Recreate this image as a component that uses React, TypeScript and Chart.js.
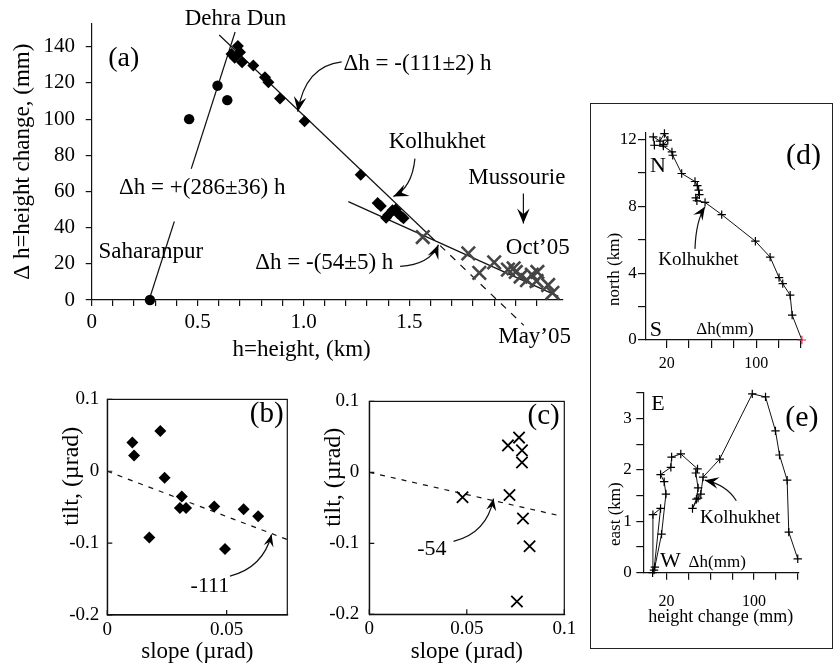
import React, { useEffect, useRef } from 'react';
import { Chart, registerables } from 'chart.js';

Chart.register(...registerables);

const SERIF = "'Liberation Serif', 'Times New Roman', Times, serif";
const INK = '#111';

// ---------- Panel (a): height change vs height ----------
const circleHeight = [0.275, 0.46, 0.594, 0.64];
const circleChange = [0, 100, 118.5, 110.5];
const diamondHeight = [0.66, 0.675, 0.69, 0.7, 0.71, 0.763, 0.818, 0.834, 0.889, 1.005, 1.27, 1.35, 1.365, 1.39, 1.4, 1.42, 1.435, 1.445, 1.462, 1.472];
const diamondChange = [136, 134, 140.5, 137, 131.5, 129.7, 123.2, 120.4, 111.4, 98.8, 69.2, 53.6, 52, 45.5, 47, 49.6, 50, 48, 46.2, 45.2];
const crossHeight = [1.563, 1.778, 1.83, 1.9, 1.965, 1.992, 2.002, 2.025, 2.055, 2.078, 2.104, 2.1, 2.155, 2.175];
const crossChange = [34.8, 25.8, 15, 20.8, 16.8, 17.5, 15.5, 13, 11, 14, 15.5, 10.5, 8.3, 4];
const fitUpLowH = [0.274, 0.39];
const fitUpLowDh = [1.1, 43.4];
const fitUpHighH = [0.47, 0.677];
const fitUpHighDh = [72.6, 148.2];
const fit111H = [0.602, 1.62];
const fit111Dh = [146.5, 32.9];
const fit111DashH = [1.645, 2.04];
const fit111DashDh = [30.1, -14.0];
const fit54H = [1.2115, 2.203];
const fit54Dh = [54.4, 2.0];
const aXTicks = [0, 0.1, 0.2, 0.3, 0.4, 0.5, 0.6, 0.7, 0.8, 0.9, 1.0, 1.1, 1.2, 1.3, 1.4, 1.5, 1.6, 1.7, 1.8, 1.9, 2.0, 2.1];
const aXLabels = ['0', '', '', '', '', '0.5', '', '', '', '', '1.0', '', '', '', '', '1.5', '', '', '', '', '', ''];
const aYTicks = [0, 20, 40, 60, 80, 100, 120, 140];
const aYLabels = ['0', '20', '40', '60', '80', '100', '120', '140'];

// ---------- Panel (b): tilt vs slope (diamonds) ----------
const bSlope = [0.0105, 0.0112, 0.0222, 0.024, 0.0176, 0.0312, 0.0304, 0.033, 0.0448, 0.0493, 0.0571, 0.0632];
const bTilt = [0.04, 0.022, 0.056, -0.009, -0.092, -0.035, -0.051, -0.051, -0.049, -0.108, -0.053, -0.0625];
const bFitSlope = [0, 0.0754];
const bFitTilt = [0, -0.095];
const bXTicks = [0, 0.05];
const bXLabels = ['0', '0.05'];

// ---------- Panel (c): tilt vs slope (crosses) ----------
const cSlope = [0.0478, 0.0719, 0.0711, 0.0768, 0.0783, 0.0783, 0.0788, 0.0822, 0.0757];
const cTilt = [-0.035, -0.032, 0.038, 0.049, 0.031, 0.014, -0.065, -0.104, -0.182];
const cFitSlope = [0, 0.0975];
const cFitTilt = [0, -0.061];
const cXTicks = [0, 0.05, 0.1];
const cXLabels = ['0', '0.05', '0.1'];

const tiltTicks = [-0.2, -0.1, 0, 0.1];
const tiltLabels = ['-0.2', '-0.1', '0', '0.1'];

// ---------- Panel (d): north vs height change ----------
const dChange = [140.9, 132.2, 130.4, 123.8, 120.5, 112.5, 99.3, 69.2, 54.3, 47, 46, 49.2, 48.6, 47.4, 45.3, 33.4, 25.4, 24.7, 17, 9, 8, 14, 18, 21, 17];
const dNorth = [0, 1.49, 2.68, 3.37, 3.73, 4.96, 5.91, 7.5, 8.23, 8.33, 8.5, 8.69, 8.97, 9.23, 9.48, 9.96, 11.05, 11.25, 11.6, 11.65, 12.15, 11.9, 12.35, 11.95, 11.7];
const dYTicks = [0, 2, 4, 6, 8, 10, 12];
const dYLabels = ['0', '', '4', '', '8', '', '12'];

// ---------- Panel (e): east vs height change ----------
const eChange = [140, 131.8, 130.3, 123.3, 119.6, 110.5, 98.4, 68.6, 53.4, 51.3, 48.8, 43.7, 47.3, 48.8, 46.7, 48.3, 33, 24.6, 23.9, 14.5, 17.8, 19.4, 15.4, 9.3, 7.2, 7.5, 14.5, 8.5];
const eEast = [0.27, 0.79, 1.8, 2.29, 2.76, 3.42, 3.48, 2.21, 1.86, 1.53, 1.45, 1.25, 1.43, 1.65, 1.94, 2.02, 2.31, 2.25, 2.05, 1.91, 1.77, 1.53, 0.75, 0.11, 0, 1.13, 1.25, 0.05];
const eYTicks = [0, 0.5, 1, 1.5, 2, 2.5, 3, 3.5];
const eYLabels = ['0', '', '1', '', '2', '', '3', ''];

const mmTicks = [20, 40, 60, 80, 100, 120, 140];
const mmLabels = ['20', '', '', '', '100', '', ''];

type Item =
  | { kind: 'text'; x: number; y: number; text: string; size: number; rot?: boolean }
  | { kind: 'arrow'; path: number[][]; head: number };

function decor(items: Item[], box: boolean, inTick: number) {
  return {
    id: 'decor',
    afterDraw(chart: any) {
      const { ctx, chartArea: a, scales } = chart;
      const sx = scales.x;
      const sy = scales.y;
      ctx.save();
      ctx.strokeStyle = INK;
      ctx.fillStyle = '#000';
      ctx.lineWidth = 1.2;
      if (box) {
        ctx.strokeRect(a.left, a.top, a.right - a.left, a.bottom - a.top);
      }
      if (inTick > 0) {
        ctx.beginPath();
        for (const t of sx.ticks) {
          const px = sx.getPixelForValue(t.value);
          ctx.moveTo(px, a.bottom);
          ctx.lineTo(px, a.bottom - inTick);
        }
        for (const t of sy.ticks) {
          const py = sy.getPixelForValue(t.value);
          ctx.moveTo(a.left, py);
          ctx.lineTo(a.left + inTick, py);
        }
        ctx.stroke();
      }
      for (const it of items) {
        if (it.kind === 'text') {
          ctx.font = `${it.size}px ${SERIF}`;
          ctx.textAlign = 'center';
          ctx.textBaseline = 'middle';
          const px = sx.getPixelForValue(it.x);
          const py = sy.getPixelForValue(it.y);
          if (it.rot) {
            ctx.save();
            ctx.translate(px, py);
            ctx.rotate(-Math.PI / 2);
            ctx.fillText(it.text, 0, 0);
            ctx.restore();
          } else {
            ctx.fillText(it.text, px, py);
          }
        } else {
          const p = it.path.map(([x, y]) => [sx.getPixelForValue(x), sy.getPixelForValue(y)]);
          ctx.beginPath();
          ctx.moveTo(p[0][0], p[0][1]);
          if (p.length === 3) ctx.quadraticCurveTo(p[1][0], p[1][1], p[2][0], p[2][1]);
          else ctx.lineTo(p[1][0], p[1][1]);
          ctx.stroke();
          const tip = p[p.length - 1];
          const prev = p[p.length - 2];
          let ux = tip[0] - prev[0];
          let uy = tip[1] - prev[1];
          const len = Math.hypot(ux, uy) || 1;
          ux /= len; uy /= len;
          const nx = -uy, ny = ux;
          const L = it.head, W = it.head * 0.42;
          ctx.beginPath();
          ctx.moveTo(tip[0], tip[1]);
          ctx.lineTo(tip[0] - ux * L + nx * W, tip[1] - uy * L + ny * W);
          ctx.lineTo(tip[0] - ux * L * 0.62, tip[1] - uy * L * 0.62);
          ctx.lineTo(tip[0] - ux * L - nx * W, tip[1] - uy * L - ny * W);
          ctx.closePath();
          ctx.fill();
        }
      }
      ctx.restore();
    },
  };
}

function axis(o: {
  position: 'left' | 'bottom'; min: number; max: number; ticks: number[]; labels: string[];
  font: number; tickLen: number; pad: number; size: number; title?: string; titleFont?: number; titlePad?: any;
}) {
  const horizontal = o.position === 'bottom';
  return {
    type: 'linear',
    position: o.position,
    min: o.min,
    max: o.max,
    afterBuildTicks: (s: any) => { s.ticks = o.ticks.map((v) => ({ value: v })); },
    afterFit: (s: any) => { if (horizontal) s.height = o.size; else s.width = o.size; },
    ticks: {
      autoSkip: false, maxRotation: 0, minRotation: 0, padding: o.pad, color: '#000',
      font: { family: SERIF, size: o.font },
      callback: (_v: any, i: number) => o.labels[i],
    },
    grid: { display: true, drawOnChartArea: false, drawTicks: o.tickLen > 0, tickLength: o.tickLen, color: INK, lineWidth: 1.2 },
    border: { display: true, color: INK, width: 1.2 },
    title: o.title
      ? { display: true, text: o.title, color: '#000', font: { family: SERIF, size: o.titleFont }, padding: o.titlePad }
      : { display: false },
  };
}

const pts = (xs: number[], ys: number[]) => xs.map((x, i) => ({ x, y: ys[i] }));

function lineSet(xs: number[], ys: number[], dash: number[] = []) {
  return {
    data: pts(xs, ys), showLine: true, borderColor: INK, borderWidth: 1.2, borderDash: dash,
    pointRadius: 0, clip: false, order: 2,
  };
}

function baseOptions(padding: any, x: any, y: any) {
  return {
    responsive: false, animation: false, devicePixelRatio: 1, events: [],
    layout: { padding },
    plugins: { legend: { display: false }, tooltip: { enabled: false }, title: { display: false } },
    scales: { x, y },
  };
}

function cfgA(): any {
  const items: Item[] = [
    { kind: 'text', x: 0.151, y: 133.2, text: '(a)', size: 28 },
    { kind: 'text', x: 0.679, y: 155.2, text: 'Dehra Dun', size: 23 },
    { kind: 'text', x: 1.538, y: 130.3, text: 'Δh = -(111±2) h', size: 23 },
    { kind: 'text', x: 1.631, y: 87.5, text: 'Kolhukhet', size: 23 },
    { kind: 'text', x: 2.007, y: 67.3, text: 'Mussourie', size: 23 },
    { kind: 'text', x: 2.106, y: 28.6, text: 'Oct’05', size: 23 },
    { kind: 'text', x: 2.091, y: -20.3, text: 'May’05', size: 23 },
    { kind: 'text', x: 0.522, y: 61.7, text: 'Δh = +(286±36) h', size: 23 },
    { kind: 'text', x: 0.279, y: 26.8, text: 'Saharanpur', size: 23 },
    { kind: 'text', x: 1.098, y: 20.4, text: 'Δh = -(54±5) h', size: 23 },
    { kind: 'text', x: 0.991, y: -27.4, text: 'h=height, (km)', size: 23 },
    { kind: 'arrow', path: [[1.18, 131.7], [1.007, 129.4], [0.973, 104.1]], head: 15 },
    { kind: 'arrow', path: [[1.526, 78.2], [1.512, 62], [1.424, 57.2]], head: 15 },
    { kind: 'arrow', path: [[2.038, 58.9], [2.038, 42.3]], head: 15 },
    { kind: 'arrow', path: [[1.456, 18.6], [1.597, 19.5], [1.637, 30.5]], head: 14 },
  ];
  return {
    type: 'scatter',
    data: {
      datasets: [
        lineSet(fitUpLowH, fitUpLowDh),
        lineSet(fitUpHighH, fitUpHighDh),
        lineSet(fit111H, fit111Dh),
        lineSet(fit111DashH, fit111DashDh, [7, 7]),
        lineSet(fit54H, fit54Dh),
        { data: pts(circleHeight, circleChange), pointStyle: 'circle', pointRadius: 5.2, backgroundColor: '#000', borderColor: '#000', borderWidth: 0, clip: false, order: 1 },
        { data: pts(diamondHeight, diamondChange), pointStyle: 'rectRot', pointRadius: 6, backgroundColor: '#000', borderColor: '#000', borderWidth: 0, clip: false, order: 1 },
        { data: pts(crossHeight, crossChange), pointStyle: 'crossRot', pointRadius: 9.5, borderColor: '#454545', borderWidth: 2.6, clip: false, order: 1 },
      ],
    },
    options: baseOptions(
      { left: 0, top: 23, right: 27, bottom: 0 },
      axis({ position: 'bottom', min: 0, max: 2.225, ticks: aXTicks, labels: aXLabels, font: 21, tickLen: 6, pad: 3.4, size: 72 }),
      axis({ position: 'left', min: 0, max: 153, ticks: aYTicks, labels: aYLabels, font: 21, tickLen: 6, pad: 10.7, size: 91.7, title: 'Δ h=height change, (mm)', titleFont: 23, titlePad: { top: 9.2, bottom: 0 } }),
    ),
    plugins: [decor(items, false, 0)],
  };
}

function cfgB(): any {
  const items: Item[] = [
    { kind: 'text', x: 0.0668, y: 0.0788, text: '(b)', size: 29 },
    { kind: 'text', x: 0.043, y: -0.16, text: '-111', size: 22 },
    { kind: 'text', x: -0.0149, y: -0.0069, text: 'tilt, (µrad)', size: 24, rot: true },
    { kind: 'arrow', path: [[0.0514, -0.1458], [0.0653, -0.134], [0.0688, -0.088]], head: 12 },
  ];
  return {
    type: 'scatter',
    data: {
      datasets: [
        lineSet(bFitSlope, bFitTilt, [5, 6]),
        { data: pts(bSlope, bTilt), pointStyle: 'rectRot', pointRadius: 6, backgroundColor: '#000', borderColor: '#000', borderWidth: 0, clip: false, order: 1 },
      ],
    },
    options: baseOptions(
      { left: 0, top: 19, right: 12.7, bottom: 0 },
      axis({ position: 'bottom', min: 0, max: 0.0754, ticks: bXTicks, labels: bXLabels, font: 19, tickLen: 0, pad: 3.6, size: 51, title: 'slope (µrad)', titleFont: 23, titlePad: { top: 0, bottom: 0 } }),
      axis({ position: 'left', min: -0.2, max: 0.1, ticks: tiltTicks, labels: tiltLabels, font: 19, tickLen: 0, pad: 8, size: 107.3 }),
    ),
    plugins: [decor(items, true, 5)],
  };
}

function cfgC(): any {
  const items: Item[] = [
    { kind: 'text', x: 0.0894, y: 0.0788, text: '(c)', size: 29 },
    { kind: 'text', x: 0.0321, y: -0.1088, text: '-54', size: 22 },
    { kind: 'text', x: -0.0185, y: -0.0069, text: 'tilt, (µrad)', size: 24, rot: true },
    { kind: 'arrow', path: [[0.0432, -0.0972], [0.0603, -0.0856], [0.0637, -0.037]], head: 12 },
  ];
  return {
    type: 'scatter',
    data: {
      datasets: [
        lineSet(cFitSlope, cFitTilt, [5, 6]),
        { data: pts(cSlope, cTilt), pointStyle: 'crossRot', pointRadius: 8, borderColor: '#000', borderWidth: 1.8, clip: false, order: 1 },
      ],
    },
    options: baseOptions(
      { left: 0, top: 19, right: 25.7, bottom: 0 },
      axis({ position: 'bottom', min: 0, max: 0.1, ticks: cXTicks, labels: cXLabels, font: 19, tickLen: 0, pad: 3.6, size: 51.7, title: 'slope (µrad)', titleFont: 23, titlePad: { top: 0, bottom: 0 } }),
      axis({ position: 'left', min: -0.2, max: 0.1, ticks: tiltTicks, labels: tiltLabels, font: 19, tickLen: 0, pad: 10, size: 69.3 }),
    ),
    plugins: [decor(items, true, 5)],
  };
}

function cfgD(): any {
  const items: Item[] = [
    { kind: 'text', x: 142.3, y: 11.0, text: '(d)', size: 30 },
    { kind: 'text', x: 12.2, y: 10.4, text: 'N', size: 22 },
    { kind: 'text', x: 10.4, y: 0.6, text: 'S', size: 22 },
    { kind: 'text', x: 72.1, y: 0.6, text: 'Δh(mm)', size: 17 },
    { kind: 'text', x: 48.4, y: 4.76, text: 'Kolhukhet', size: 19 },
    { kind: 'text', x: -26.8, y: 4.22, text: 'north (km)', size: 17, rot: true },
    { kind: 'arrow', path: [[45.3, 5.45], [46.2, 7.14], [54.2, 7.97]], head: 13 },
  ];
  const colors = dChange.map((_, i) => (i === 0 ? '#e0203a' : '#000'));
  return {
    type: 'scatter',
    data: {
      datasets: [
        { data: pts(dChange, dNorth), showLine: true, borderColor: INK, borderWidth: 1, pointStyle: 'cross', pointRadius: 4.2, pointBorderColor: colors, pointBorderWidth: 1.2, clip: false },
      ],
    },
    options: baseOptions(
      { left: 0, top: 27.7, right: 28, bottom: 0 },
      axis({ position: 'bottom', min: 1.5, max: 141, ticks: mmTicks, labels: mmLabels, font: 16, tickLen: 8, pad: 5.7, size: 37 }),
      axis({ position: 'left', min: 0, max: 12.4, ticks: dYTicks, labels: dYLabels, font: 17, tickLen: 8, pad: 1.3, size: 54 }),
    ),
    plugins: [decor(items, false, 0)],
  };
}

function cfgE(): any {
  const items: Item[] = [
    { kind: 'text', x: 143.8, y: 3.0, text: '(e)', size: 30 },
    { kind: 'text', x: 12.1, y: 3.28, text: 'E', size: 22 },
    { kind: 'text', x: 23.5, y: 0.23, text: 'W', size: 22 },
    { kind: 'text', x: 66.3, y: 0.2, text: 'Δh(mm)', size: 17 },
    { kind: 'text', x: 87.3, y: 1.06, text: 'Kolhukhet', size: 19 },
    { kind: 'text', x: -27, y: 1.14, text: 'east (km)', size: 17, rot: true },
    { kind: 'arrow', path: [[83.8, 1.4], [74.7, 1.71], [54.9, 1.8]], head: 14 },
  ];
  return {
    type: 'scatter',
    data: {
      datasets: [
        { data: pts(eChange, eEast), showLine: true, borderColor: INK, borderWidth: 1, pointStyle: 'cross', pointRadius: 4.2, pointBorderColor: '#000', pointBorderWidth: 1.2, clip: false },
      ],
    },
    options: baseOptions(
      { left: 0, top: 5.3, right: 31.7, bottom: 0 },
      axis({ position: 'bottom', min: -1.3, max: 140.5, ticks: mmTicks, labels: mmLabels, font: 16, tickLen: 7, pad: 12.4, size: 73.3, title: 'height change (mm)', titleFont: 18, titlePad: { top: 0, bottom: 17.9 } }),
      axis({ position: 'left', min: 0, max: 3.5, ticks: eYTicks, labels: eYLabels, font: 17, tickLen: 7, pad: 4.6, size: 51.3 }),
    ),
    plugins: [decor(items, false, 0)],
  };
}

export default function App() {
  const refA = useRef<HTMLCanvasElement>(null);
  const refB = useRef<HTMLCanvasElement>(null);
  const refC = useRef<HTMLCanvasElement>(null);
  const refD = useRef<HTMLCanvasElement>(null);
  const refE = useRef<HTMLCanvasElement>(null);

  useEffect(() => {
    const charts = [
      new Chart(refA.current as HTMLCanvasElement, cfgA()),
      new Chart(refB.current as HTMLCanvasElement, cfgB()),
      new Chart(refC.current as HTMLCanvasElement, cfgC()),
      new Chart(refD.current as HTMLCanvasElement, cfgD()),
      new Chart(refE.current as HTMLCanvasElement, cfgE()),
    ];
    return () => charts.forEach((c) => c.destroy());
  }, []);

  return (
    <div style={{ position: 'absolute', left: 0, top: 0, width: 833, height: 666, background: '#fff', overflow: 'hidden' }}>
      <div style={{ position: 'absolute', left: 590, top: 103, width: 243, height: 546, boxSizing: 'border-box', border: '1.5px solid #222' }} />
      <canvas ref={refA} width={590} height={372} style={{ position: 'absolute', left: 0, top: 0 }} />
      <canvas ref={refB} width={300} height={286} style={{ position: 'absolute', left: 0, top: 380 }} />
      <canvas ref={refC} width={290} height={286} style={{ position: 'absolute', left: 300, top: 380 }} />
      <canvas ref={refD} width={238} height={272} style={{ position: 'absolute', left: 592, top: 105 }} />
      <canvas ref={refE} width={238} height={268} style={{ position: 'absolute', left: 592, top: 378 }} />
    </div>
  );
}
